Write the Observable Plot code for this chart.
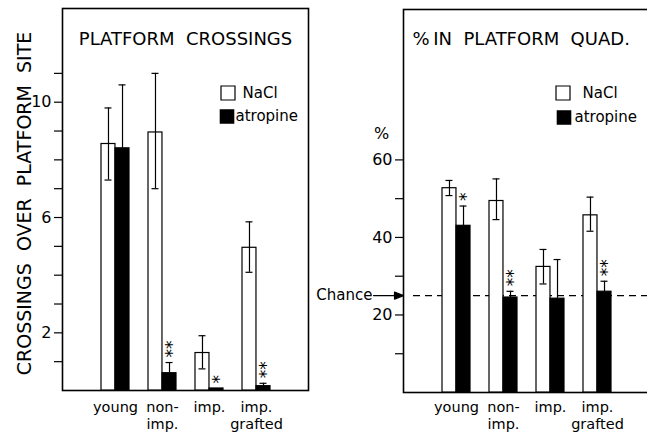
<!DOCTYPE html>
<html>
<head>
<meta charset="utf-8">
<script src="https://cdn.jsdelivr.net/npm/d3@7"></script>
<script src="https://cdn.jsdelivr.net/npm/@observablehq/plot@0.6"></script>
<style>
  html, body { margin: 0; padding: 0; background: #fff; }
  #figure { position: relative; width: 647px; height: 432px; overflow: hidden; background: #fff; }
  #crossings, #quadrant { position: absolute; top: 0; }
  #crossings { left: 0; width: 312px; }
  #quadrant { left: 312px; width: 338px; }
</style>
</head>
<body>
<div id="figure"><div id="crossings"></div><div id="quadrant"></div></div>
<script>
// Groups and treatments
const groups = ["young", "non-imp.", "imp.", "imp. grafted"];
const groupLabels = ["young", "non-\nimp.", "imp.", "imp.\ngrafted"];
const series = ["NaCl", "atropine"];

// Crossings over platform site: means and error-bar ends
const crossingsNaCl = [8.55, 8.95, 1.3, 4.95];
const crossingsNaClLow = [7.3, 7.0, 0.75, 4.1];
const crossingsNaClHigh = [9.8, 11.0, 1.9, 5.85];
const crossingsAtropine = [8.4, 0.6, 0.07, 0.15];
const crossingsAtropineHigh = [10.6, 0.97, null, 0.25];
const crossingsStars = ["", "**", "*", "**"];
const crossingsTicks = [1, 2, 3, 4, 5, 6, 7, 8, 9, 10, 11];
const crossingsTickLabels = [2, 6, 10];

// % time in platform quadrant: means and error-bar ends
const quadrantNaCl = [52.7, 49.4, 32.4, 45.7];
const quadrantNaClLow = [50.8, 44.6, 28.0, 41.6];
const quadrantNaClHigh = [54.7, 55.1, 36.9, 50.4];
const quadrantAtropine = [43.0, 24.5, 24.2, 26.0];
const quadrantAtropineHigh = [48.1, 26.1, 34.3, 28.7];
const quadrantStars = ["*", "**", "", "**"];
const quadrantTicks = [10, 20, 30, 40, 50, 60];
const quadrantTickLabels = [20, 40, 60];
const chanceLevel = 25;

const FONT = "DejaVu Sans, sans-serif";
const PAD_INNER = 0.407, PAD_OUTER = 0.803;
const FRAME_WIDTH = 246;
// half of a group's band: one bar per treatment, side by side
const HALF = FRAME_WIDTH / (groups.length - PAD_INNER + 2 * PAD_OUTER) * (1 - PAD_INNER) / 2;

function buildTables(nacl, naclLow, naclHigh, atro, atroHigh, stars) {
  const naclRows = groups.map((g, i) => ({group: g, value: nacl[i], low: naclLow[i], high: naclHigh[i]}));
  const atroRows = groups.map((g, i) => ({group: g, value: atro[i], high: atroHigh[i]}));
  const naclCaps = naclRows.flatMap(d => [{group: d.group, value: d.low}, {group: d.group, value: d.high}]);
  const atroErr = atroRows.filter(d => d.high != null);
  const signif = groups.map((g, i) => ({group: g, value: atroHigh[i] ?? atro[i], text: stars[i]}))
    .filter(d => d.text);
  return {naclRows, atroRows, naclCaps, atroErr, signif};
}

// Legend drawn inside the frame, offsets measured from the frame's top-left corner
function legend(o) {
  const common = {frameAnchor: "top-left"};
  return [
    Plot.dot(["NaCl"], {...common, dx: o.wx, dy: o.wy, symbol: "square", r: 7.9, fill: "white", stroke: "black", strokeWidth: 1.2}),
    Plot.dot(["atropine"], {...common, dx: o.bx, dy: o.by, symbol: "square", r: 7.4, fill: "black", stroke: "black"}),
    Plot.text(["NaCl"], {...common, dx: o.tx1, dy: o.wy, textAnchor: "start", lineAnchor: "middle", fontSize: 15}),
    Plot.text(["atropine"], {...common, dx: o.tx2, dy: o.by, textAnchor: "start", lineAnchor: "middle", fontSize: 15})
  ];
}

function panel(t, o) {
  const sw = 1.2;
  return Plot.plot({
    width: o.width,
    height: 432,
    marginLeft: o.marginLeft,
    marginRight: o.marginRight,
    marginTop: o.marginTop,
    marginBottom: o.marginBottom,
    style: {fontFamily: FONT, fontSize: "15px", color: "black", background: "white"},
    x: {domain: groups, paddingInner: PAD_INNER, paddingOuter: PAD_OUTER, label: null},
    y: {domain: o.yDomain, label: null},
    marks: [
      Plot.frame({strokeWidth: 1.6}),
      ...o.extra,
      // NaCl bars occupy the left half of each band, atropine the right half
      Plot.barY(t.naclRows, {x: "group", y: "value", insetRight: HALF, fill: "white", stroke: "black", strokeWidth: sw}),
      Plot.barY(t.atroRows, {x: "group", y: "value", insetLeft: HALF, fill: "black", stroke: "black", strokeWidth: sw}),
      Plot.ruleX(t.naclRows, {x: "group", y1: "low", y2: "high", dx: -HALF / 2, strokeWidth: sw}),
      Plot.ruleX(t.atroErr, {x: "group", y1: "value", y2: "high", dx: HALF / 2, strokeWidth: sw}),
      Plot.tickY(t.naclCaps, {x: "group", y: "value", insetLeft: 3.5, insetRight: HALF + 3.5, strokeWidth: sw}),
      Plot.tickY(t.atroErr, {x: "group", y: "high", insetLeft: HALF + 3.5, insetRight: 3.5, strokeWidth: sw}),
      // significance stars, stacked upward from the top of the error bar
      Plot.text(t.signif, {
        x: "group", y: "value", text: "text", rotate: 90,
        textAnchor: "end", lineAnchor: "middle",
        dx: HALF / 2 - 4, dy: -5, fontSize: 17, letterSpacing: 1.5
      }),
      Plot.axisY({ticks: o.ticks, tickSize: 8, fill: "none", strokeWidth: sw}),
      Plot.axisY({ticks: o.tickLabels, tickSize: 0, tickPadding: 11, fontSize: 16}),
      Plot.axisX({
        tickSize: 0, tickPadding: o.labelPadding, fontSize: 14.5, lineHeight: 1.17,
        tickFormat: g => groupLabels[groups.indexOf(g)]
      })
    ]
  });
}

// Arrowhead shape for the chance marker: a line with a filled triangular tip
const arrowShape = {
  draw(context, l) {
    context.moveTo(0, 0);
    context.lineTo(0, -l + 7);
    context.moveTo(0, -l);
    context.lineTo(-3.5, -l + 9);
    context.lineTo(3.5, -l + 9);
    context.closePath();
  }
};

const crossings = buildTables(crossingsNaCl, crossingsNaClLow, crossingsNaClHigh, crossingsAtropine, crossingsAtropineHigh, crossingsStars);
const quadrant = buildTables(quadrantNaCl, quadrantNaClLow, quadrantNaClHigh, quadrantAtropine, quadrantAtropineHigh, quadrantStars);

document.getElementById("crossings").append(panel(crossings, {
  width: 312, marginLeft: 62, marginRight: 4, marginTop: 8, marginBottom: 42,
  yDomain: [0, 13.25], labelPadding: 9,
  ticks: crossingsTicks, tickLabels: crossingsTickLabels,
  extra: [
    Plot.text(["PLATFORM\u00a0 CROSSINGS"], {frameAnchor: "top", dy: 24, lineAnchor: "top", fontSize: 18, letterSpacing: 0.8}),
    Plot.text(["CROSSINGS\u00a0 OVER\u00a0 PLATFORM\u00a0 SITE"], {frameAnchor: "left", textAnchor: "middle", lineAnchor: "middle", dx: -38, dy: 4, rotate: -90, fontSize: 19, letterSpacing: 0.4}),
    ...legend({wx: 165.5, wy: 84.5, bx: 164.5, by: 108, tx1: 180, tx2: 173})
  ]
}));

document.getElementById("quadrant").append(panel(quadrant, {
  width: 338, marginLeft: 91, marginRight: 1, marginTop: 9, marginBottom: 40,
  yDomain: [0, 98.8], labelPadding: 7,
  ticks: quadrantTicks, tickLabels: quadrantTickLabels,
  extra: [
    Plot.ruleY([chanceLevel], {strokeDasharray: "7,5", strokeWidth: 1.2, insetLeft: 10}),
    Plot.vector([chanceLevel], {y: d => d, frameAnchor: "left", rotate: 90, length: 30, anchor: "end", shape: arrowShape, fill: "black", stroke: "black", strokeWidth: 1.2}),
    Plot.text([chanceLevel], {y: d => d, text: () => "Chance", frameAnchor: "left", textAnchor: "end", dx: -31, fontSize: 15}),
    Plot.text(["%"], {frameAnchor: "top-left", textAnchor: "middle", dx: -22, dy: 118, lineAnchor: "top", fontSize: 16}),
    Plot.text(["%\u2009IN\u00a0 PLATFORM\u00a0 QUAD."], {frameAnchor: "top-left", dx: 9, dy: 23, textAnchor: "start", lineAnchor: "top", fontSize: 18, letterSpacing: 1.4}),
    ...legend({wx: 159.5, wy: 83.5, bx: 160.5, by: 108, tx1: 179, tx2: 171})
  ]
}));
</script>
</body>
</html>
